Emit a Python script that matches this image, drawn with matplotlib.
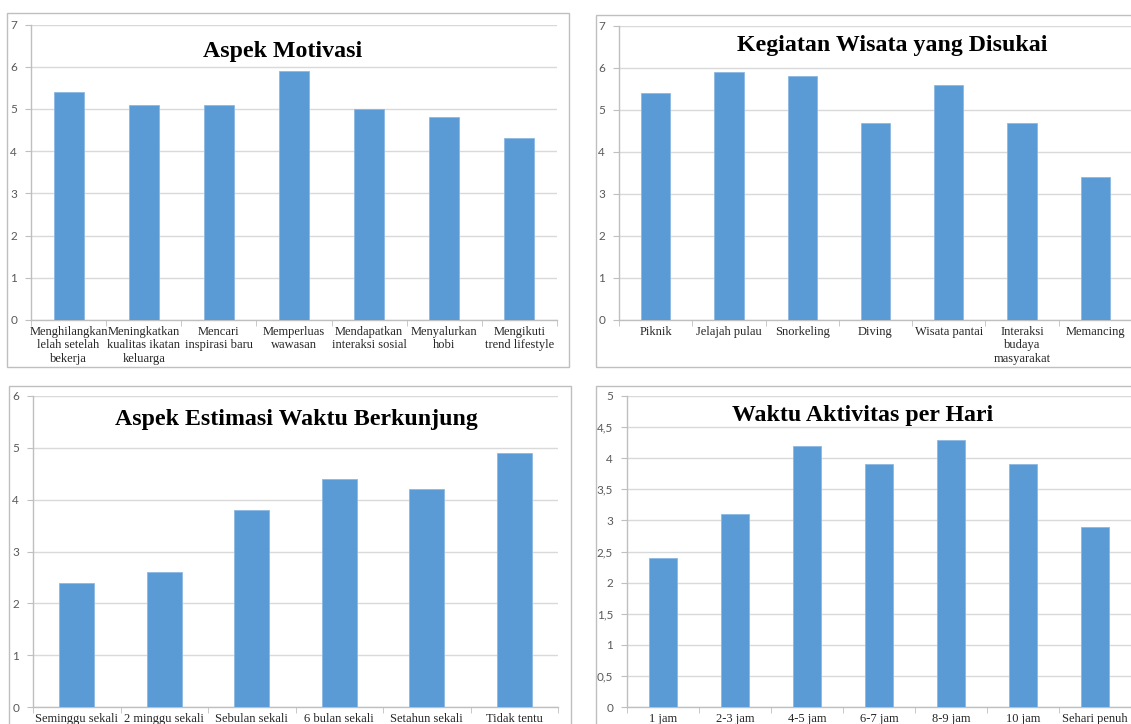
import numpy as np
import matplotlib.pyplot as plt
from matplotlib.patches import Rectangle
from matplotlib.ticker import FuncFormatter

# Data
motivasi_labels = ["Menghilangkan\nlelah setelah\nbekerja", "Meningkatkan\nkualitas ikatan\nkeluarga",
                   "Mencari\ninspirasi baru", "Memperluas\nwawasan", "Mendapatkan\ninteraksi sosial",
                   "Menyalurkan\nhobi", "Mengikuti\ntrend lifestyle"]
motivasi_values = [5.4, 5.1, 5.1, 5.9, 5.0, 4.8, 4.3]

kegiatan_labels = ["Piknik", "Jelajah pulau", "Snorkeling", "Diving", "Wisata pantai",
                   "Interaksi\nbudaya\nmasyarakat", "Memancing"]
kegiatan_values = [5.4, 5.9, 5.8, 4.7, 5.6, 4.7, 3.4]

estimasi_labels = ["Seminggu sekali", "2 minggu sekali", "Sebulan sekali", "6 bulan sekali",
                   "Setahun sekali", "Tidak tentu"]
estimasi_values = [2.4, 2.6, 3.8, 4.4, 4.2, 4.9]

waktu_labels = ["1 jam", "2-3 jam", "4-5 jam", "6-7 jam", "8-9 jam", "10 jam", "Sehari penuh"]
waktu_values = [2.4, 3.1, 4.2, 3.9, 4.3, 3.9, 2.9]

W, H = 1131, 724
BAR = '#5B9BD5'
GRID = '#D9D9D9'

fig = plt.figure(figsize=(W / 100, H / 100), dpi=100)
fig.patch.set_facecolor('white')


def px_axes(x0, x1, ytop, ybot):
    return fig.add_axes([x0 / W, 1 - ybot / H, (x1 - x0) / W, (ybot - ytop) / H])


def panel_box(x0, y0, x1, y1):
    fig.patches.append(Rectangle((x0 / W, 1 - y1 / H), (x1 - x0) / W, (y1 - y0) / H,
                                 transform=fig.transFigure, fill=False,
                                 edgecolor='#BFBFBF', lw=1.0))


def bar_panel(ax, labels, values, ymax, step, title, tx, ty, comma=False):
    n = len(values)
    x = np.arange(n)
    ax.bar(x, values, width=0.4, color=BAR, edgecolor='#8DB8E2', linewidth=0.6, zorder=3)
    ax.set_xlim(-0.5, n - 0.5)
    ax.set_ylim(0, ymax)
    ax.set_yticks(np.arange(0, ymax + step / 2, step))
    if comma:
        ax.yaxis.set_major_formatter(FuncFormatter(lambda v, p: f'{v:g}'.replace('.', ',')))
    ax.grid(axis='y', color=GRID, lw=1.0, zorder=0)
    ax.set_axisbelow(True)
    for s in ['top', 'right']:
        ax.spines[s].set_visible(False)
    for s in ['left', 'bottom']:
        ax.spines[s].set_color('#BFBFBF')
        ax.spines[s].set_linewidth(1.0)
    ax.set_xticks(x)
    ax.set_xticklabels(labels, family='Liberation Serif', fontsize=9, color='#262626',
                       linespacing=1.2)
    ax.set_xticks(np.arange(-0.5, n, 1), minor=True)
    ax.tick_params(axis='x', which='major', length=0, pad=4)
    ax.tick_params(axis='x', which='minor', length=4, color='#BFBFBF')
    ax.tick_params(axis='y', length=4, color='#BFBFBF', labelsize=8.5,
                   labelcolor='#595959', pad=6)
    for t in ax.get_yticklabels():
        t.set_family('Lato')
    # titles sit inside the plot area, placed in pixel terms
    fig.text(tx / W, 1 - ty / H, title, ha='center', va='center',
             family='Liberation Serif', fontweight='bold', fontsize=17.2, color='black')


# panel frames
panel_box(7, 13, 569, 367)
panel_box(596, 15, 1136, 367)
panel_box(9, 386, 571, 730)
panel_box(596, 386, 1136, 730)

ax1 = px_axes(31, 557, 24.5, 320)
bar_panel(ax1, motivasi_labels, motivasi_values, 7, 1, 'Aspek Motivasi', 283, 52)

ax2 = px_axes(619, 1132, 26, 320)
bar_panel(ax2, kegiatan_labels, kegiatan_values, 7, 1, 'Kegiatan Wisata yang Disukai', 892, 46)

ax3 = px_axes(33, 558, 396, 707)
bar_panel(ax3, estimasi_labels, estimasi_values, 6, 1, 'Aspek Estimasi Waktu Berkunjung', 296, 419)

ax4 = px_axes(627, 1131, 396, 707)
bar_panel(ax4, waktu_labels, waktu_values, 5, 0.5, 'Waktu Aktivitas per Hari', 863, 415, comma=True)

plt.savefig('out.png', dpi=100, facecolor='white')
